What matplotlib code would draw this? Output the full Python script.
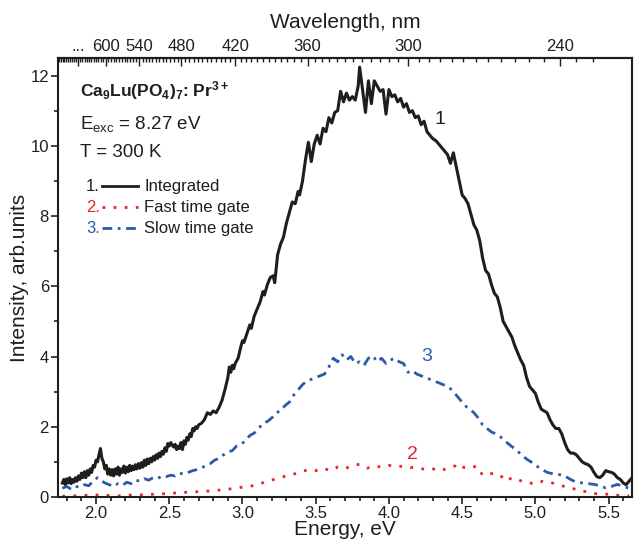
import numpy as np
import matplotlib
matplotlib.use('Agg')
import matplotlib.pyplot as plt
from matplotlib.ticker import MultipleLocator, FixedLocator

plt.rcParams['font.family'] = ['Liberation Sans', 'DejaVu Sans']
plt.rcParams['mathtext.default'] = 'regular'

# Integrated (curve 1)
e_int = [1.77, 1.78, 1.79, 1.80, 1.81, 1.82, 1.83, 1.84, 1.85, 1.86, 1.87, 1.88, 1.89, 1.90,
         1.91, 1.92, 1.93, 1.94, 1.95, 1.96, 1.97, 1.98, 1.99, 2.00, 2.01, 2.02, 2.03, 2.04,
         2.05, 2.06, 2.07, 2.08, 2.09, 2.10, 2.11, 2.12, 2.13, 2.14, 2.15, 2.16, 2.17, 2.18,
         2.19, 2.20, 2.21, 2.22, 2.23, 2.24, 2.25, 2.26, 2.27, 2.28, 2.29, 2.30, 2.31, 2.32,
         2.33, 2.34, 2.35, 2.36, 2.37, 2.38, 2.39, 2.40, 2.41, 2.42, 2.43, 2.44, 2.45, 2.46,
         2.47, 2.48, 2.49, 2.50, 2.51, 2.52, 2.53, 2.54, 2.55, 2.56, 2.57, 2.58, 2.59, 2.60,
         2.61, 2.62, 2.63, 2.64, 2.65, 2.66, 2.67, 2.68, 2.69, 2.70, 2.72, 2.74, 2.76, 2.78,
         2.80, 2.82, 2.84, 2.86, 2.88, 2.90, 2.91, 2.92, 2.93, 2.94, 2.95, 2.97, 2.99, 3.00,
         3.01, 3.03, 3.05, 3.06, 3.08, 3.10, 3.12, 3.14, 3.15, 3.17, 3.19, 3.21, 3.22, 3.24,
         3.26, 3.28, 3.30, 3.32, 3.34, 3.36, 3.38, 3.39, 3.41, 3.43, 3.45, 3.47, 3.49, 3.51,
         3.53, 3.55, 3.57, 3.59, 3.61, 3.63, 3.65, 3.67, 3.69, 3.71, 3.73, 3.75, 3.77, 3.79,
         3.80, 3.82, 3.84, 3.86, 3.88, 3.90, 3.92, 3.94, 3.96, 3.98, 4.00, 4.02, 4.04, 4.06,
         4.08, 4.10, 4.12, 4.14, 4.16, 4.18, 4.20, 4.22, 4.24, 4.26, 4.28, 4.30, 4.32, 4.34,
         4.36, 4.38, 4.40, 4.42, 4.44, 4.46, 4.48, 4.50, 4.52, 4.54, 4.56, 4.58, 4.60, 4.62,
         4.64, 4.66, 4.68, 4.70, 4.72, 4.74, 4.76, 4.78, 4.80, 4.82, 4.84, 4.86, 4.88, 4.90,
         4.92, 4.94, 4.96, 4.98, 5.00, 5.02, 5.04, 5.06, 5.08, 5.10, 5.12, 5.14, 5.16, 5.18,
         5.20, 5.22, 5.24, 5.26, 5.28, 5.30, 5.32, 5.34, 5.36, 5.38, 5.40, 5.42, 5.44, 5.46,
         5.48, 5.50, 5.52, 5.54, 5.56, 5.58, 5.60, 5.62, 5.64, 5.66]
i_int = [0.40, 0.50, 0.35, 0.52, 0.40, 0.55, 0.38, 0.50, 0.42, 0.55, 0.45, 0.60, 0.50, 0.68,
         0.55, 0.72, 0.55, 0.75, 0.62, 0.80, 0.70, 0.90, 0.85, 1.05, 1.00, 1.20, 1.38, 1.10,
         1.00, 0.80, 0.90, 0.65, 0.80, 0.62, 0.78, 0.60, 0.80, 0.65, 0.85, 0.62, 0.80, 0.70,
         0.88, 0.68, 0.85, 0.72, 0.90, 0.75, 0.88, 0.78, 0.92, 0.80, 0.95, 0.82, 0.98, 0.85,
         1.05, 0.90, 1.08, 0.95, 1.10, 1.00, 1.15, 1.05, 1.20, 1.10, 1.25, 1.15, 1.30, 1.22,
         1.40, 1.30, 1.52, 1.45, 1.55, 1.48, 1.42, 1.50, 1.35, 1.45, 1.38, 1.55, 1.35, 1.60,
         1.50, 1.70, 1.62, 1.80, 1.72, 1.95, 1.88, 2.00, 1.95, 2.05, 2.10, 2.20, 2.40, 2.35,
         2.45, 2.40, 2.55, 2.75, 3.05, 3.40, 3.70, 3.55, 3.75, 3.65, 3.80, 3.95, 4.30, 4.45,
         4.40, 4.65, 4.90, 4.80, 5.15, 5.35, 5.55, 5.85, 5.75, 6.05, 6.25, 6.30, 6.10, 6.90,
         7.20, 7.40, 7.80, 8.10, 8.40, 8.35, 8.70, 8.60, 9.00, 9.60, 10.10, 9.55, 10.05, 10.30,
         10.05, 10.50, 10.40, 10.80, 10.65, 10.95, 11.00, 11.55, 11.25, 11.50, 11.30, 11.40, 11.30, 11.70,
         12.24, 11.60, 10.95, 11.85, 11.20, 11.85, 11.70, 11.55, 11.60, 10.90, 11.60, 11.40, 11.45, 11.25,
         11.35, 11.10, 11.20, 10.95, 11.00, 10.80, 10.85, 10.60, 10.70, 10.40, 10.30, 10.20, 10.15, 10.05,
         9.95, 9.85, 9.75, 9.50, 9.80, 9.40, 9.00, 8.60, 8.50, 8.35, 8.05, 7.75, 7.60, 7.30,
         6.80, 6.45, 6.35, 6.05, 5.80, 5.70, 5.40, 5.00, 4.85, 4.70, 4.55, 4.30, 4.10, 3.90,
         3.75, 3.40, 3.15, 3.05, 2.95, 2.70, 2.50, 2.45, 2.40, 2.20, 2.05, 1.95, 1.95, 1.80,
         1.55, 1.35, 1.25, 1.25, 1.20, 1.10, 1.00, 0.95, 0.92, 0.85, 0.70, 0.58, 0.55, 0.62,
         0.75, 0.72, 0.70, 0.65, 0.55, 0.50, 0.40, 0.35, 0.45, 0.55]

# Fast time gate (curve 2)
e_fast = [1.77, 1.85, 1.95, 2.00, 2.05, 2.10, 2.15, 2.20, 2.30, 2.40, 2.50, 2.60, 2.70, 2.80,
          2.90, 3.00, 3.05, 3.10, 3.15, 3.20, 3.25, 3.30, 3.35, 3.40, 3.45, 3.50, 3.55, 3.60,
          3.65, 3.70, 3.75, 3.80, 3.85, 3.90, 3.95, 4.00, 4.05, 4.10, 4.15, 4.20, 4.25, 4.30,
          4.35, 4.40, 4.45, 4.47, 4.50, 4.55, 4.60, 4.64, 4.68, 4.72, 4.76, 4.80, 4.84, 4.88,
          4.92, 4.96, 5.00, 5.05, 5.10, 5.15, 5.20, 5.25, 5.30, 5.35, 5.40, 5.45, 5.50, 5.55,
          5.60, 5.64]
i_fast = [0.02, 0.03, 0.05, 0.06, 0.03, 0.05, 0.03, 0.05, 0.06, 0.08, 0.10, 0.13, 0.15, 0.18,
          0.22, 0.28, 0.30, 0.35, 0.42, 0.48, 0.55, 0.60, 0.65, 0.72, 0.78, 0.75, 0.82, 0.75,
          0.85, 0.80, 0.90, 0.93, 0.82, 0.88, 0.85, 0.90, 0.86, 0.88, 0.84, 0.83, 0.78, 0.80,
          0.74, 0.82, 0.88, 0.95, 0.85, 0.82, 0.88, 0.62, 0.65, 0.68, 0.62, 0.45, 0.55, 0.50,
          0.42, 0.40, 0.37, 0.45, 0.42, 0.35, 0.30, 0.25, 0.18, 0.15, 0.10, 0.08, 0.08, 0.05,
          0.04, 0.03]

# Slow time gate (curve 3)
e_slow = [1.77, 1.80, 1.83, 1.86, 1.89, 1.92, 1.95, 1.98, 2.01, 2.03, 2.06, 2.09, 2.12, 2.15,
          2.18, 2.21, 2.24, 2.27, 2.30, 2.33, 2.36, 2.39, 2.42, 2.45, 2.48, 2.51, 2.54, 2.57,
          2.60, 2.63, 2.66, 2.69, 2.72, 2.75, 2.78, 2.81, 2.84, 2.87, 2.90, 2.93, 2.96, 2.99,
          3.02, 3.05, 3.08, 3.11, 3.14, 3.17, 3.20, 3.23, 3.26, 3.29, 3.32, 3.35, 3.38, 3.41,
          3.44, 3.47, 3.50, 3.53, 3.56, 3.59, 3.62, 3.65, 3.68, 3.71, 3.74, 3.77, 3.80, 3.83,
          3.86, 3.89, 3.92, 3.95, 3.98, 4.01, 4.04, 4.07, 4.10, 4.13, 4.16, 4.19, 4.22, 4.25,
          4.28, 4.31, 4.34, 4.37, 4.40, 4.43, 4.46, 4.49, 4.52, 4.55, 4.58, 4.61, 4.64, 4.67,
          4.70, 4.73, 4.76, 4.79, 4.82, 4.85, 4.88, 4.91, 4.94, 4.97, 5.00, 5.04, 5.08, 5.12,
          5.16, 5.20, 5.24, 5.28, 5.32, 5.36, 5.40, 5.44, 5.48, 5.52, 5.56, 5.60, 5.64]
i_slow = [0.25, 0.30, 0.22, 0.30, 0.28, 0.35, 0.32, 0.45, 0.55, 0.48, 0.40, 0.35, 0.30, 0.38,
          0.33, 0.42, 0.38, 0.48, 0.45, 0.52, 0.48, 0.55, 0.52, 0.60, 0.58, 0.62, 0.60, 0.68,
          0.65, 0.70, 0.75, 0.78, 0.82, 0.90, 0.95, 1.05, 1.10, 1.20, 1.28, 1.32, 1.45, 1.50,
          1.60, 1.75, 1.82, 1.95, 2.10, 2.15, 2.25, 2.40, 2.45, 2.60, 2.70, 2.90, 3.05, 3.20,
          3.30, 3.35, 3.40, 3.45, 3.50, 3.70, 3.95, 3.85, 4.05, 3.90, 4.00, 3.80, 3.85, 3.75,
          3.95, 4.02, 3.85, 3.95, 3.80, 3.90, 3.95, 3.85, 3.80, 3.55, 3.60, 3.50, 3.45, 3.40,
          3.35, 3.30, 3.25, 3.20, 3.15, 3.05, 2.90, 2.75, 2.60, 2.50, 2.40, 2.25, 2.05, 1.95,
          1.85, 1.80, 1.72, 1.60, 1.50, 1.40, 1.30, 1.18, 1.08, 1.00, 0.90, 0.80, 0.70, 0.66,
          0.64, 0.60, 0.50, 0.42, 0.40, 0.38, 0.36, 0.32, 0.26, 0.30, 0.36, 0.30, 0.25]

wl_ticks = [660, 600, 540, 480, 420, 360, 300, 240]
wl_labels = ['...', '600', '540', '480', '420', '360', '300', '240']

red = '#e8232b'
blue = '#2b5aa8'
ink = '#1e1e1e'

fig = plt.figure(figsize=(6.35, 5.48), dpi=100)
ax = fig.add_axes([0.0913, 0.0931, 0.9040, 0.8011])

ax.plot(e_int, i_int, color=ink, lw=2.2, solid_joinstyle='round')
ax.plot(e_fast, i_fast, color=red, lw=2.0, linestyle=(0, (1, 3)))
ax.plot(e_slow, i_slow, color=blue, lw=2.0, linestyle=(0, (3.5, 2, 1, 2)))

ax.set_xlim(1.74, 5.66)
ax.set_ylim(0, 12.5)
ax.xaxis.set_major_locator(MultipleLocator(0.5))
ax.xaxis.set_minor_locator(MultipleLocator(0.1))
ax.yaxis.set_major_locator(MultipleLocator(2))
ax.yaxis.set_minor_locator(MultipleLocator(1))
ax.xaxis.set_major_formatter(plt.FormatStrFormatter('%.1f'))
ax.tick_params(which='both', direction='out', labelsize=12, width=1.2, colors=ink)
ax.tick_params(which='major', length=5)
ax.tick_params(which='minor', length=3)
ax.tick_params(axis='x', top=False, pad=1.5)
ax.tick_params(axis='y', pad=1.5)
for s in ax.spines.values():
    s.set_linewidth(1.5)
    s.set_color(ink)

ax.set_xlabel('Energy, eV', fontsize=15, labelpad=-1, color=ink)
ax.set_ylabel('Intensity, arb.units', fontsize=15, labelpad=1, color=ink)

# top wavelength axis
sec = ax.secondary_xaxis('top', functions=(lambda e: 1239.84 / np.asarray(e, float),
                                           lambda l: 1239.84 / np.asarray(l, float)))
sec.xaxis.set_major_locator(FixedLocator(wl_ticks))
sec.xaxis.set_minor_locator(FixedLocator(np.arange(230, 715, 5)))
sec.set_xticklabels(wl_labels)
sec.tick_params(which='both', direction='in', labelsize=12, width=1.0, pad=3, colors=ink)
sec.tick_params(which='major', length=6)
sec.tick_params(which='minor', length=3)
sec.spines['top'].set_linewidth(1.5)
sec.set_xlabel('Wavelength, nm', fontsize=15, labelpad=8, color=ink)

# annotations
ax.text(0.038, 0.925, r'Ca$_9$Lu(PO$_4$)$_7$: Pr$^{3+}$', transform=ax.transAxes,
        fontsize=12.5, fontweight='bold', va='center', color=ink)
ax.text(0.038, 0.850, r'E$_{exc}$ = 8.27 eV', transform=ax.transAxes, fontsize=13.5,
        va='center', color=ink)
ax.text(0.038, 0.784, 'T = 300 K', transform=ax.transAxes, fontsize=13.5, va='center', color=ink)

leg = [('1.', ink, '-', 'Integrated', 0.708),
       ('2.', red, (0, (1, 3)), 'Fast time gate', 0.660),
       ('3.', blue, (0, (3.5, 2, 1, 2)), 'Slow time gate', 0.612)]
for num, c, ls, lab, yy in leg:
    ax.text(0.049, yy, num, color=c, transform=ax.transAxes, fontsize=12, va='center')
    ax.plot([0.077, 0.140], [yy, yy], color=c, lw=2.0, linestyle=ls, transform=ax.transAxes)
    ax.text(0.150, yy, lab, transform=ax.transAxes, fontsize=12, va='center', color=ink)

ax.text(4.35, 10.75, '1', fontsize=14, color=ink, ha='center', va='center')
ax.text(4.26, 4.0, '3', fontsize=14, color=blue, ha='center', va='center')
ax.text(4.16, 1.22, '2', fontsize=14, color=red, ha='center', va='center')

fig.savefig('out.png', dpi=100)
